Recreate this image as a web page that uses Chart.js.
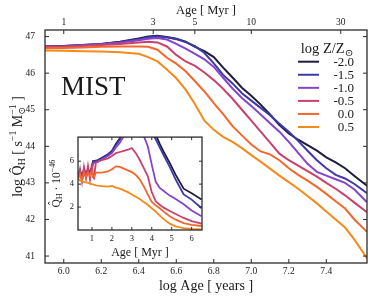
<!DOCTYPE html>
<html>
<head>
<meta charset="utf-8">
<script src="https://cdn.jsdelivr.net/npm/chart.js@4.4.1/dist/chart.umd.min.js"></script>
<style>
  html, body { margin: 0; padding: 0; background: #fff; }
  #wrap { position: relative; width: 374px; height: 299px; }
  #main { position: absolute; left: 0; top: 0; }
  #inset { position: absolute; left: 40px; top: 128px; }
</style>
</head>
<body>
<div id="wrap">
  <canvas id="main" width="374" height="299"></canvas>
  <canvas id="inset" width="166" height="134"></canvas>
</div>
<script>
// metallicity labels (log Z/Zsun)
const metallicities = ["-2.0", "-1.5", "-1.0", "-0.5", "0.0", "0.5"];

// main panel: log age [yr] vs log Q_H
const logAge = [5.9, 6.0, 6.1, 6.2, 6.3, 6.4, 6.45, 6.5, 6.55, 6.6, 6.65, 6.7, 6.75, 6.8, 6.85,
  6.9, 6.95, 7.0, 7.05, 7.1, 7.15, 7.2, 7.25, 7.3, 7.35, 7.4, 7.45, 7.5, 7.55, 7.617];
const logQ_m20 = [46.73, 46.74, 46.77, 46.8, 46.86, 46.95, 47.0, 47.02, 46.99, 46.94, 46.86, 46.72, 46.6, 46.44, 46.15,
  45.88, 45.6, 45.38, 45.14, 44.87, 44.58, 44.35, 44.18, 44.03, 43.88, 43.7, 43.56, 43.4, 43.19, 42.92];
const logQ_m15 = [46.73, 46.74, 46.77, 46.8, 46.85, 46.93, 46.98, 47.0, 46.98, 46.93, 46.85, 46.74, 46.55, 46.27, 45.95,
  45.72, 45.45, 45.25, 45.05, 44.85, 44.62, 44.4, 44.15, 43.88, 43.62, 43.4, 43.22, 43.12, 42.97, 42.72];
const logQ_m10 = [46.72, 46.73, 46.76, 46.79, 46.83, 46.9, 46.94, 46.96, 46.92, 46.8, 46.67, 46.53, 46.38, 46.17, 45.87,
  45.58, 45.32, 45.1, 44.87, 44.63, 44.4, 44.12, 43.82, 43.52, 43.3, 43.2, 43.1, 43.0, 42.82, 42.47];
const logQ_m05 = [46.72, 46.72, 46.74, 46.77, 46.8, 46.84, 46.86, 46.84, 46.73, 46.5, 46.32, 46.2, 46.02, 45.81, 45.57,
  45.3, 45.0, 44.7, 44.4, 44.1, 43.8, 43.62, 43.47, 43.32, 43.17, 43.0, 42.84, 42.66, 42.46, 42.2];
const logQ_p00 = [46.68, 46.69, 46.7, 46.72, 46.73, 46.73, 46.72, 46.64, 46.42, 46.26, 46.05, 45.78, 45.5, 45.18, 44.88,
  44.55, 44.3, 44.05, 43.86, 43.78, 43.62, 43.4, 43.22, 43.06, 42.89, 42.7, 42.5, 42.3, 42.0, 41.66];
const logQ_p05 = [46.62, 46.61, 46.6, 46.59, 46.57, 46.53, 46.44, 46.32, 46.1, 45.86, 45.55, 45.15, 44.7, 44.45, 44.26,
  44.12, 43.95, 43.76, 43.58, 43.39, 43.2, 43.02, 42.84, 42.64, 42.44, 42.22, 42.0, 41.78, 41.45, 40.94];

// inset: age [Myr] vs Q_H / 1e46
const insetAge = [0.3, 0.4, 0.5, 0.6, 0.7, 0.8, 0.9, 1.0, 1.05, 1.1, 1.2, 1.3, 1.5, 1.8, 2.0, 2.2, 2.4,
  2.6, 2.8, 3.0, 3.2, 3.4, 3.6, 3.8, 4.0, 4.2, 4.4, 4.6, 4.9, 5.2, 5.6, 6.0, 6.5];
const q_m20 = [4.8, 5.2, 4.6, 5.3, 4.8, 5.3, 5.0, 5.5, 6.0, 6.0, 6.05, 6.1, 6.3, 6.6, 6.9, 7.5, 8.0,
  8.7, 9.3, 10.0, 10.5, 10.4, 10.0, 9.6, 9.0, 8.3, 7.5, 6.8, 5.85, 4.8, 3.6, 3.2, 2.65];
const q_m15 = [4.7, 5.1, 4.5, 5.2, 4.7, 5.2, 4.9, 5.4, 5.9, 5.95, 6.0, 6.05, 6.25, 6.55, 6.85, 7.4, 7.9,
  8.5, 9.1, 9.7, 10.0, 9.9, 9.5, 9.1, 8.5, 7.9, 7.2, 6.5, 5.5, 4.4, 3.1, 2.65, 1.9];
const q_m10 = [4.6, 5.0, 4.4, 5.1, 4.6, 5.1, 4.8, 5.3, 5.8, 5.85, 5.9, 5.95, 6.15, 6.45, 6.7, 7.2, 7.6,
  8.2, 8.5, 8.8, 9.0, 8.8, 8.2, 7.3, 5.7, 4.2, 3.67, 3.4, 3.0, 2.7, 2.25, 1.7, 1.2];
const q_m05 = [4.5, 5.3, 4.2, 5.5, 4.5, 5.6, 4.4, 5.8, 4.6, 4.5, 5.9, 5.95, 6.1, 6.25, 6.45, 6.7, 6.8,
  6.9, 7.0, 7.15, 6.7, 6.1, 5.4, 4.7, 3.3, 2.5, 2.2, 1.95, 1.65, 1.4, 1.05, 0.78, 0.55];
const q_p00 = [4.4, 4.9, 4.3, 5.0, 4.6, 5.0, 4.7, 5.1, 4.7, 4.6, 5.0, 5.0, 5.0, 5.1, 5.3, 5.55, 5.5,
  5.35, 5.2, 5.05, 4.8, 4.4, 3.8, 3.1, 2.45, 2.15, 1.9, 1.6, 1.2, 0.9, 0.6, 0.45, 0.35];
const q_p05 = [4.5, 4.3, 4.25, 4.2, 4.15, 4.1, 4.05, 4.0, 3.98, 3.95, 3.9, 3.87, 3.82, 3.78, 3.85, 3.7, 3.6,
  3.45, 3.3, 3.1, 2.9, 2.7, 2.45, 2.2, 1.9, 1.6, 1.25, 0.95, 0.55, 0.32, 0.17, 0.1, 0.06];

// tick labels
const bottomTicks = [6.0, 6.2, 6.4, 6.6, 6.8, 7.0, 7.2, 7.4];
const topAgeTicks = [1, 3, 5, 10, 30];  // Myr
const leftTicks = [41, 42, 43, 44, 45, 46, 47];
const insetXTicks = [1, 2, 3, 4, 5, 6];
const insetYTicks = [2, 4, 6];

const lineColors = ["#1f1c3d", "#3d3aa8", "#8544cc", "#c9416d", "#f3672d", "#f5891a"];
const SERIF = '"Liberation Serif", "DejaVu Serif", serif';
const INK = "#1a1a1a";

const mainSeries = [logQ_m20, logQ_m15, logQ_m10, logQ_m05, logQ_p00, logQ_p05];
const insetSeries = [q_m20, q_m15, q_m10, q_m05, q_p00, q_p05];

function drawRich(ctx, parts, cx, cy, size, angle) {
  const big = size + "px " + SERIF;
  const sm = (size * 0.7) + "px " + SERIF;
  const widthOf = (p) => {
    if (p.t !== undefined) { ctx.font = big; return ctx.measureText(p.t).width; }
    ctx.font = sm;
    return Math.max(p.sub ? ctx.measureText(p.sub).width : 0, p.sup ? ctx.measureText(p.sup).width : 0);
  };
  ctx.save();
  ctx.translate(cx, cy);
  ctx.rotate(angle || 0);
  const total = parts.reduce((s, p) => s + widthOf(p), 0);
  let x = -total / 2;
  const base = size * 0.33;
  ctx.textAlign = "left";
  ctx.textBaseline = "alphabetic";
  ctx.fillStyle = INK;
  parts.forEach((p) => {
    const w = widthOf(p);
    if (p.t !== undefined) {
      ctx.font = big;
      ctx.fillText(p.t, x, base);
    } else {
      ctx.font = sm;
      if (p.sub) ctx.fillText(p.sub, x, base + size * 0.22);
      if (p.sup) ctx.fillText(p.sup, x, base - size * 0.42);
    }
    x += w;
  });
  ctx.restore();
}

function frameAndTicks(ctx, a, sides, len) {
  ctx.strokeStyle = "#2b2b2b";
  ctx.lineWidth = 1.3;
  ctx.strokeRect(a.left, a.top, a.right - a.left, a.bottom - a.top);
  ctx.lineWidth = 1;
  ctx.beginPath();
  sides.forEach(([scale, side]) => {
    scale.ticks.forEach((t) => {
      const p = scale.getPixelForValue(t.value);
      if (side === "left") { ctx.moveTo(a.left, p); ctx.lineTo(a.left + len, p); }
      if (side === "right") { ctx.moveTo(a.right, p); ctx.lineTo(a.right - len, p); }
      if (side === "bottom") { ctx.moveTo(p, a.bottom); ctx.lineTo(p, a.bottom - len); }
      if (side === "top") { ctx.moveTo(p, a.top); ctx.lineTo(p, a.top + len); }
    });
  });
  ctx.stroke();
}

const mainDecor = {
  id: "mainDecor",
  afterDatasetsDraw(chart) {
    const { ctx, chartArea: a, scales } = chart;
    ctx.save();
    frameAndTicks(ctx, a, [[scales.y, "left"], [scales.y, "right"], [scales.x, "bottom"], [scales.x2, "top"]], 4);

    ctx.fillStyle = INK;
    ctx.font = "27px " + SERIF;
    ctx.textAlign = "left";
    ctx.textBaseline = "alphabetic";
    ctx.fillText("MIST", 61, 95);

    drawRich(ctx, [{ t: "log Age [ years ]" }], (a.left + a.right) / 2, 285, 14);
    drawRich(ctx, [{ t: "Age [ Myr ]" }], (a.left + a.right) / 2, 10, 12.5);
    drawRich(ctx, [{ t: "log Q\u0302" }, { sub: "H" }, { t: " [ s" }, { sup: "\u22121" }, { t: " M" },
      { sub: "\u2299", sup: "\u22121" }, { t: " ]" }], 17, (a.top + a.bottom) / 2, 14, -Math.PI / 2);

    // legend
    drawRich(ctx, [{ t: "log Z/Z" }, { sub: "\u2299" }], 327, 48, 14.5);
    metallicities.forEach((z, i) => {
      const y = 61.7 + i * 13.06;
      ctx.strokeStyle = lineColors[i];
      ctx.lineWidth = 2;
      ctx.beginPath();
      ctx.moveTo(298, y);
      ctx.lineTo(319, y);
      ctx.stroke();
      ctx.fillStyle = INK;
      ctx.font = "13px " + SERIF;
      ctx.textAlign = "right";
      ctx.textBaseline = "middle";
      ctx.fillText(z, 354, y + 0.5);
    });
    ctx.restore();
  },
};

const insetDecor = {
  id: "insetDecor",
  beforeDatasetsDraw(chart) {
    const { ctx, chartArea: a } = chart;
    ctx.save();
    ctx.fillStyle = "#fff";
    ctx.fillRect(a.left, a.top, a.right - a.left, a.bottom - a.top);
    ctx.restore();
  },
  afterDatasetsDraw(chart) {
    const { ctx, chartArea: a, scales } = chart;
    ctx.save();
    frameAndTicks(ctx, a, [[scales.y, "left"], [scales.y, "right"], [scales.x, "bottom"], [scales.x, "top"]], 3);
    drawRich(ctx, [{ t: "Age [ Myr ]" }], (a.left + a.right) / 2, 124, 12);
    drawRich(ctx, [{ t: "Q\u0302" }, { sub: "H" }, { t: " \u00b7 10" }, { sup: "\u221246" }],
      16, (a.top + a.bottom) / 2, 11.5, -Math.PI / 2);
    ctx.restore();
  },
};

function tickFont(size) {
  return { family: SERIF, size: size };
}

new Chart(document.getElementById("main"), {
  type: "line",
  data: {
    datasets: metallicities.map((z, i) => ({
      label: z,
      data: logAge.map((a, k) => ({ x: a, y: mainSeries[i][k] })),
      borderColor: lineColors[i],
      borderWidth: 2,
      pointRadius: 0,
      tension: 0,
      fill: false,
      order: -i,
    })),
  },
  options: {
    responsive: false,
    animation: false,
    devicePixelRatio: 1,
    layout: { padding: { left: 0, right: 7, top: 0, bottom: 0 } },
    plugins: { legend: { display: false }, tooltip: { enabled: false } },
    scales: {
      x: {
        type: "linear", position: "bottom", min: 5.9, max: 7.617,
        afterBuildTicks: (ax) => { ax.ticks = bottomTicks.map((v) => ({ value: v })); },
        afterFit: (ax) => { ax.height = 36; },
        grid: { display: false, drawTicks: false },
        border: { display: false },
        ticks: { padding: 3, font: tickFont(9.5), color: INK, maxRotation: 0, autoSkip: false,
          callback: (v) => Number(v).toFixed(1) },
      },
      x2: {
        type: "linear", position: "top", min: 5.9, max: 7.617,
        afterBuildTicks: (ax) => { ax.ticks = topAgeTicks.map((m) => ({ value: 6 + Math.log10(m) })); },
        afterFit: (ax) => { ax.height = 30; },
        grid: { display: false, drawTicks: false },
        border: { display: false },
        ticks: { padding: 2, font: tickFont(9.5), color: INK, maxRotation: 0, autoSkip: false,
          callback: (v, i) => String(topAgeTicks[i]) },
      },
      y: {
        type: "linear", position: "left", min: 40.81, max: 47.18,
        afterBuildTicks: (ax) => { ax.ticks = leftTicks.map((v) => ({ value: v })); },
        afterFit: (ax) => { ax.width = 45; },
        grid: { display: false, drawTicks: false },
        border: { display: false },
        ticks: { padding: 10, font: tickFont(9.5), color: INK, callback: (v) => String(v) },
      },
    },
  },
  plugins: [mainDecor],
});

new Chart(document.getElementById("inset"), {
  type: "line",
  data: {
    datasets: metallicities.map((z, i) => ({
      label: z,
      data: insetAge.map((a, k) => ({ x: a, y: insetSeries[i][k] })),
      borderColor: lineColors[i],
      borderWidth: 1.8,
      pointRadius: 0,
      tension: 0,
      fill: false,
      clip: 0,
      order: -i,
    })),
  },
  options: {
    responsive: false,
    animation: false,
    devicePixelRatio: 1,
    layout: { padding: { left: 0, right: 4, top: 3, bottom: 0 } },
    plugins: { legend: { display: false }, tooltip: { enabled: false } },
    scales: {
      x: {
        type: "linear", position: "bottom", min: 0.3, max: 6.52,
        afterBuildTicks: (ax) => { ax.ticks = insetXTicks.map((v) => ({ value: v })); },
        afterFit: (ax) => { ax.height = 32; },
        grid: { display: false, drawTicks: false },
        border: { display: false },
        ticks: { padding: 3.5, font: tickFont(8.5), color: INK, maxRotation: 0, autoSkip: false },
      },
      y: {
        type: "linear", position: "left", min: 0, max: 8.1,
        afterBuildTicks: (ax) => { ax.ticks = insetYTicks.map((v) => ({ value: v })); },
        afterFit: (ax) => { ax.width = 38; },
        grid: { display: false, drawTicks: false },
        border: { display: false },
        ticks: { padding: 4, font: tickFont(8.5), color: INK },
      },
    },
  },
  plugins: [insetDecor],
});
</script>
</body>
</html>
